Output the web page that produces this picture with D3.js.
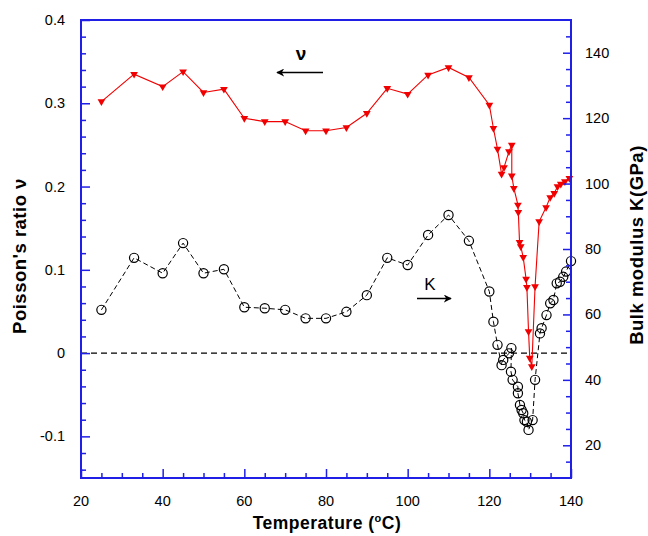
<!DOCTYPE html>
<html>
<head>
<meta charset="utf-8">
<script src="https://cdn.jsdelivr.net/npm/d3@7/dist/d3.min.js"></script>
<style>
  html, body { margin: 0; padding: 0; background: #fff; }
  svg { display: block; font-family: "Liberation Sans", Arial, sans-serif; }
</style>
</head>
<body>
<svg id="chart" width="648" height="536"></svg>
<script>
// Poisson's ratio (left axis) versus temperature
const nuTemp = [25, 33, 40, 45, 50, 55, 60, 65, 70, 75, 80, 85, 90, 95, 100, 105, 110, 115,
  120, 121, 122, 123, 123.6, 124.8, 125.5, 125.5, 126, 127, 127.1, 127.4, 127.7, 128.3,
  129, 129.2, 129.6, 129.9, 130.4, 131.2, 132.2, 133.9, 134.9, 135.9, 136.7, 137.5, 138.5, 139.6];
const nuValue = [0.302, 0.335, 0.320, 0.338, 0.313, 0.317, 0.282, 0.278, 0.278, 0.267, 0.267, 0.271, 0.288, 0.318, 0.311, 0.334, 0.343, 0.331,
  0.298, 0.270, 0.245, 0.215, 0.223, 0.242, 0.250, 0.213, 0.198, 0.178, 0.169, 0.133, 0.128, 0.115,
  0.089, 0.079, 0.026, -0.006, -0.016, 0.080, 0.158, 0.175, 0.187, 0.192, 0.200, 0.203, 0.206, 0.210];

// Bulk modulus (right axis, GPa) versus temperature
const kTemp = [25, 33, 40, 45, 50, 55, 60, 65, 70, 75, 80, 85, 90, 95, 100, 105, 110, 115,
  120, 121, 122, 123, 123.4, 124.8, 125.4, 125.3, 125.7, 127, 127, 127.5, 127.9, 128.3,
  128.6, 129.2, 129.6, 130.6, 131.2, 132.4, 132.8, 134, 134.9, 135.7, 136.5, 137.3, 138.1, 138.8, 140];
const kValue = [61.4, 77.3, 72.6, 81.8, 72.6, 73.8, 62.2, 61.9, 61.4, 58.8, 58.8, 60.8, 65.9, 77.3, 75.1, 84.3, 90.4, 82.5,
  67.0, 57.8, 50.7, 44.5, 46.1, 48.1, 49.7, 42.5, 40.0, 37.9, 35.9, 32.3, 30.8, 29.8,
  27.7, 27.2, 24.7, 27.7, 40.0, 54.2, 55.8, 59.8, 63.4, 64.4, 69.5, 70.0, 71.5, 73.1, 76.3];

// Axis ticks
const xTickLabels = [20, 40, 60, 80, 100, 120, 140];
const leftTickLabels = ["-0.1", "0", "0.1", "0.2", "0.3", "0.4"];
const rightTickLabels = [20, 40, 60, 80, 100, 120, 140];

const svg = d3.select("#chart");
const L = 81, R = 571, T = 20, B = 478;
const axisBlue = "#1f1fe6";

const x = d3.scaleLinear().domain([20, 140]).range([L, R]);
const yL = d3.scaleLinear().domain([-0.15, 0.4]).range([B, T]);
const yR = d3.scaleLinear().domain([10, 150]).range([B, T]);

// zero reference line
svg.append("line")
  .attr("x1", L).attr("x2", R)
  .attr("y1", yL(0)).attr("y2", yL(0))
  .attr("stroke", "#000").attr("stroke-width", 1.2)
  .attr("stroke-dasharray", "6,4");

// Bulk modulus series: dashed black line with open circles
const kData = kTemp.map((t, i) => ({ t, v: kValue[i] }));
svg.append("path")
  .datum(kData)
  .attr("fill", "none")
  .attr("stroke", "#000")
  .attr("stroke-width", 1)
  .attr("stroke-dasharray", "5,3")
  .attr("d", d3.line().x(d => x(d.t)).y(d => yR(d.v)));
svg.append("g").selectAll("circle")
  .data(kData).join("circle")
  .attr("cx", d => x(d.t)).attr("cy", d => yR(d.v))
  .attr("r", 4.6)
  .attr("fill", "none")
  .attr("stroke", "#000").attr("stroke-width", 1.2);

// Poisson's ratio series: solid red line with down-pointing triangles
const nuData = nuTemp.map((t, i) => ({ t, v: nuValue[i] }));
svg.append("path")
  .datum(nuData)
  .attr("fill", "none")
  .attr("stroke", "#f00000")
  .attr("stroke-width", 1.1)
  .attr("d", d3.line().x(d => x(d.t)).y(d => yL(d.v)));
const tri = d3.symbol().type(d3.symbolTriangle).size(26);
svg.append("g").selectAll("path")
  .data(nuData).join("path")
  .attr("d", tri)
  .attr("transform", d => `translate(${x(d.t)},${yL(d.v)}) rotate(180)`)
  .attr("fill", "#f00000");

// frame
svg.append("rect")
  .attr("x", L).attr("y", T)
  .attr("width", R - L).attr("height", B - T)
  .attr("fill", "none")
  .attr("stroke", axisBlue).attr("stroke-width", 2);

// bottom axis
const xAxis = svg.append("g").attr("transform", `translate(0,${B})`);
xAxis.call(d3.axisBottom(x).tickValues(d3.range(20, 141, 5)).tickSize(0).tickFormat(""));
xAxis.select(".domain").remove();
xAxis.selectAll(".tick line")
  .attr("y2", d => (d % 20 === 0 ? -9 : -5))
  .attr("stroke", axisBlue).attr("stroke-width", 1.5);
svg.append("g").selectAll("text")
  .data(xTickLabels).join("text")
  .attr("x", d => x(d)).attr("y", 506)
  .attr("text-anchor", "middle")
  .attr("font-size", 14.5)
  .attr("fill", "#000")
  .text(d => d);

// left axis
const leftAxis = svg.append("g").attr("transform", `translate(${L},0)`);
leftAxis.call(d3.axisLeft(yL).tickValues(d3.range(-14, 41, 2).map(v => v / 100)).tickSize(0).tickFormat(""));
leftAxis.select(".domain").remove();
leftAxis.selectAll(".tick line")
  .attr("x2", d => (Math.abs(Math.round(d * 100)) % 10 === 0 ? 9 : 5))
  .attr("stroke", axisBlue).attr("stroke-width", 1.5);
svg.append("g").selectAll("text")
  .data(leftTickLabels).join("text")
  .attr("x", 65).attr("y", d => yL(+d) + 5)
  .attr("text-anchor", "end")
  .attr("font-size", 14.5)
  .attr("fill", "#000")
  .text(d => d);

// right axis
const rightAxis = svg.append("g").attr("transform", `translate(${R},0)`);
rightAxis.call(d3.axisRight(yR).tickValues(d3.range(15, 150, 5)).tickSize(0).tickFormat(""));
rightAxis.select(".domain").remove();
rightAxis.selectAll(".tick line")
  .attr("x2", d => (d % 20 === 0 ? -8 : -5))
  .attr("stroke", axisBlue).attr("stroke-width", 1.5);
svg.append("g").selectAll("text")
  .data(rightTickLabels).join("text")
  .attr("x", 585).attr("y", d => yR(d) + 5)
  .attr("text-anchor", "start")
  .attr("font-size", 14.5)
  .attr("fill", "#000")
  .text(d => d);

// axis titles
const xTitle = svg.append("text")
  .attr("x", 327).attr("y", 529)
  .attr("text-anchor", "middle")
  .attr("font-size", 17.5).attr("font-weight", "bold")
  .attr("letter-spacing", 0.5)
  .attr("fill", "#000");
xTitle.append("tspan").text("Temperature (");
xTitle.append("tspan").attr("font-size", 11).attr("dy", -7).text("o");
xTitle.append("tspan").attr("dy", 7).text("C)");

svg.append("text")
  .attr("transform", "translate(26,256) rotate(-90)")
  .attr("text-anchor", "middle")
  .attr("font-size", 18.5).attr("font-weight", "bold")
  .attr("letter-spacing", 0.5)
  .attr("fill", "#000")
  .text("Poisson's ratio ν");

svg.append("text")
  .attr("transform", "translate(643,245) rotate(-90)")
  .attr("text-anchor", "middle")
  .attr("font-size", 18.5).attr("font-weight", "bold")
  .attr("letter-spacing", 0.5)
  .attr("fill", "#000")
  .text("Bulk modulus K(GPa)");

// series annotations with arrows
svg.append("defs").append("marker")
  .attr("id", "head")
  .attr("viewBox", "0 0 10 10")
  .attr("refX", 9).attr("refY", 5)
  .attr("markerWidth", 8).attr("markerHeight", 8)
  .attr("markerUnits", "userSpaceOnUse")
  .attr("orient", "auto")
  .append("path").attr("d", "M0,0 L10,5 L0,10 L3,5 Z").attr("fill", "#000");

svg.append("text")
  .attr("x", 301).attr("y", 60)
  .attr("text-anchor", "middle")
  .attr("font-size", 19).attr("font-weight", "bold")
  .attr("fill", "#000")
  .text("ν");
svg.append("line")
  .attr("x1", 323).attr("y1", 72.5).attr("x2", 277).attr("y2", 72.5)
  .attr("stroke", "#000").attr("stroke-width", 1.3)
  .attr("marker-end", "url(#head)");

svg.append("text")
  .attr("x", 430).attr("y", 290)
  .attr("text-anchor", "middle")
  .attr("font-size", 17)
  .attr("fill", "#000")
  .text("K");
svg.append("line")
  .attr("x1", 417).attr("y1", 298.5).attr("x2", 451).attr("y2", 298.5)
  .attr("stroke", "#000").attr("stroke-width", 1.3)
  .attr("marker-end", "url(#head)");
</script>
</body>
</html>
